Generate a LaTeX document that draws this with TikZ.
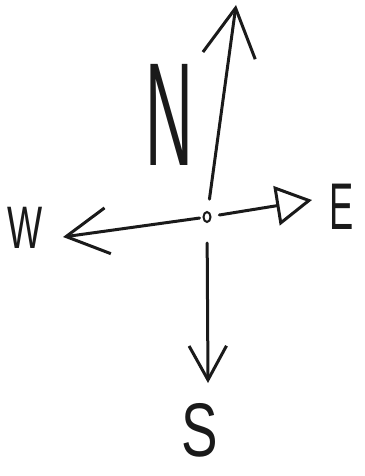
\documentclass[tikz,border=0pt]{standalone}
\usepackage{fontspec}
\setmainfont{Liberation Sans}
\usetikzlibrary{arrows.meta,positioning,shapes.geometric}
\definecolor{inkgrey}{HTML}{1A1A1A}
\tikzset{
  pen/.style={draw=inkgrey, line width=3pt, line cap=round, line join=round},
  barb/.style={pen, -{Straight Barb[length=#1, width=1.1*#1, line width=3pt]}},
  opentri/.style={pen, -{Triangle[open, length=#1, width=1.1*#1, line width=3pt]}},
  letter/.style={inner sep=0pt, text=inkgrey, transform shape},
  hub/.style={ellipse, draw=inkgrey, line width=2pt, minimum width=7pt,
              minimum height=10pt, inner sep=0pt},
}
\begin{document}
\begin{tikzpicture}[x=1pt, y=-1pt]
\useasboundingbox (0,0) rectangle (364,476);

% ---------------- centre -------------------------------------------------
\node[hub] (hub) at (207,217) {};

% ---------------- arrow ends ---------------------------------------------
\coordinate (ntip) at (236,5);
\coordinate (etip) at (312,200);
\coordinate (wtip) at (63,237);
\coordinate (stip) at (208,383);

\draw[barb=48pt, shorten <=12pt] (hub) -- (ntip);
\draw[opentri=36pt, shorten <=8pt] (hub) -- (etip);
\draw[barb=42pt, shorten <=3pt] (hub) -- (wtip);
\draw[barb=34pt, shorten <=20pt] (hub) -- (stip);

% ---------------- letters ------------------------------------------------
\node[letter, font=\fontsize{147}{147}\selectfont, xscale=0.45] (north) at (169,115) {N};
\node[letter, font=\fontsize{66}{66}\selectfont, xscale=0.55] (east) at (342,207) {E};
\node[letter, font=\fontsize{60}{60}\selectfont, xscale=0.62] (west) at (25,228) {W};
\node[letter, font=\fontsize{76}{76}\selectfont, xscale=0.72] (south) at (200,430) {S};
\end{tikzpicture}
\end{document}
